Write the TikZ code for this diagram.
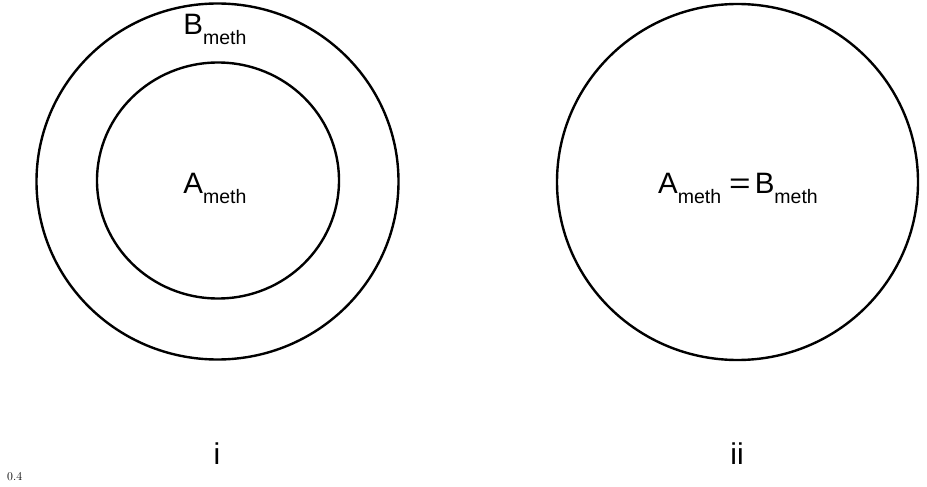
\documentclass[tikz,border=0pt]{standalone}
\usepackage{fontspec}
\setmainfont{Liberation Sans}
\newfontfamily\lmfont{Latin Modern Roman}
\usetikzlibrary{shapes.geometric}
\tikzset{
  ring/.style  ={draw, ellipse, line width=2.4pt, inner sep=0pt},
  lbl/.style   ={inner sep=0pt, anchor=base, font=\fontsize{29.5}{31}\selectfont},
  tag/.style   ={inner sep=0pt, anchor=base, font=\fontsize{30}{32}\selectfont},
}
\newcommand{\methsub}{\raisebox{-10pt}{\fontsize{19.5}{21}\selectfont meth}}

\begin{document}
\begin{tikzpicture}[x=1pt,y=-1pt]
  \useasboundingbox (0,0) rectangle (927,487);

  % left: nested sets
  \node[ring, minimum width=362pt, minimum height=356pt](outerB) at (217.5,181.5){};
  \node[ring, minimum width=242pt, minimum height=236pt](innerA) at (218,180.5){};
  \node[lbl](lblB) at (215,35){B\methsub};
  \node[lbl](lblA) at (215,193){A\methsub};

  % right: equal sets
  \node[ring, minimum width=361pt, minimum height=356pt](same) at (737.5,182){};
  \node[lbl](lblAB) at (738,193)
        {A\methsub\hspace{8pt}\scalebox{1.25}[1]{=}\hspace{4pt}B\methsub};

  % captions
  \node[tag](capi)  at (217,464){i};
  \node[tag](capii) at (737,464){ii};
  \node[inner sep=0pt, anchor=base west, font=\lmfont\fontsize{12}{13}\selectfont](scale) at (7,480){0.4};
\end{tikzpicture}
\end{document}
